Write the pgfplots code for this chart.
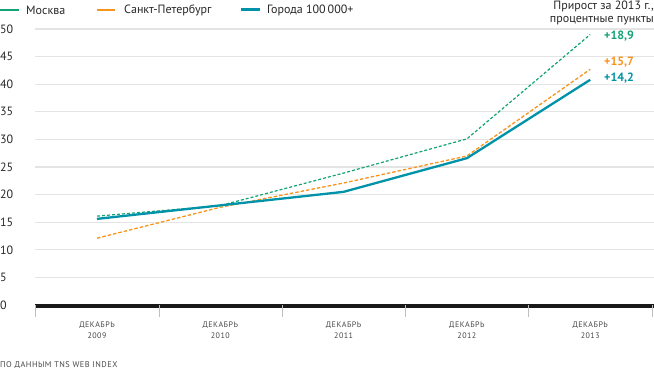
\documentclass[border=0pt]{standalone}
\usepackage{fontspec}
\setmainfont{PT Sans}
\usepackage{pgfplots}
\pgfplotsset{compat=1.18}
\definecolor{cMos}{RGB}{18,163,118}
\definecolor{cSpb}{RGB}{247,148,30}
\definecolor{cCity}{RGB}{0,146,168}
\definecolor{cGrid}{RGB}{228,228,228}
\definecolor{cTxt}{RGB}{40,40,40}
\begin{document}
\begin{tikzpicture}[x=1pt,y=1pt]
\path[use as bounding box, fill=white] (0,0) rectangle (654,370);
\begin{axis}[
  at={(35.5pt,65pt)}, anchor=south west,
  scale only axis, width=618.5pt, height=276pt,
  xmin=35.5, xmax=654, ymin=0, ymax=50,
  axis line style={draw=none},
  ytick={0,5,...,50},
  ymajorgrids, grid style={cGrid, line width=1.3pt},
  major tick length=0pt,
  xtick={97,220.3,343.6,466.9,590.2},
  xticklabels={{ДЕКАБРЬ\\2009},{ДЕКАБРЬ\\2010},{ДЕКАБРЬ\\2011},{ДЕКАБРЬ\\2012},{ДЕКАБРЬ\\2013}},
  xticklabel style={align=center, font=\addfontfeature{LetterSpace=6}\fontsize{8}{11.5}\selectfont, text=cTxt!85, yshift=-13pt},
  yticklabel style={anchor=west, inner sep=0pt, xshift=-35.5pt, font=\fontsize{12}{12}\selectfont, text=cTxt},
  /pgf/number format/assume math mode=true,
  clip=false,
]
\addplot[cMos, line width=1.2pt, dash pattern=on 3pt off 2pt] coordinates {(97,16.1) (220.3,18.0) (343.6,23.9) (466.9,30.1) (590.2,49.0)};
\addplot[cSpb, line width=1.3pt, dash pattern=on 3.5pt off 2pt] coordinates {(97,12.1) (220.3,17.7) (343.6,22.1) (466.9,27.0) (590.2,42.7)};
\addplot[cCity, line width=2.3pt] coordinates {(97,15.6) (220.3,18.05) (343.6,20.5) (466.9,26.6) (590.2,40.8)};
\draw[black!90, line width=4.5pt] (axis cs:35.5,-0.2) -- (axis cs:654,-0.2);
\pgfplotsinvokeforeach{35.5,158.8,282.1,405.4,528.7,652}{
  \draw[gray!50, line width=0.6pt] (axis cs:#1,0) -- ([yshift=-12pt]axis cs:#1,0);
}
\end{axis}
% legend
\draw[cMos, line width=2pt] (0,360) -- (19,360);
\node[anchor=west, inner sep=0pt, font=\fontsize{12}{12}\selectfont, text=cTxt] at (26,360) {Москва};
\draw[cSpb, line width=2pt] (97,360) -- (115,360);
\node[anchor=west, inner sep=0pt, font=\fontsize{12}{12}\selectfont, text=cTxt] at (124,360) {Санкт-Петербург};
\draw[cCity, line width=3pt] (241,360) -- (260,360);
\node[anchor=west, inner sep=0pt, font=\fontsize{12}{12}\selectfont, text=cTxt] at (267,360) {Города 100\,000+};
% header
\node[anchor=north east, inner sep=0pt, align=right, font=\fontsize{12}{12.5}\selectfont, text=cTxt] at (654,369) {Прирост за 2013 г.,\\процентные пункты};
% annotations
\node[anchor=west, inner sep=0pt, font=\bfseries\fontsize{12}{12}\selectfont, text=cMos] at (604,334) {+18,9};
\node[anchor=west, inner sep=0pt, font=\bfseries\fontsize{12}{12}\selectfont, text=cSpb] at (604,308) {+15,7};
\node[anchor=west, inner sep=0pt, font=\bfseries\fontsize{12}{12}\selectfont, text=cCity] at (604,292) {+14,2};
% footer
\node[anchor=west, inner sep=0pt, font=\addfontfeature{LetterSpace=6}\fontsize{8.3}{9}\selectfont, text=cTxt!85] at (0,4.5) {ПО ДАННЫМ TNS WEB INDEX};
\end{tikzpicture}
\end{document}
